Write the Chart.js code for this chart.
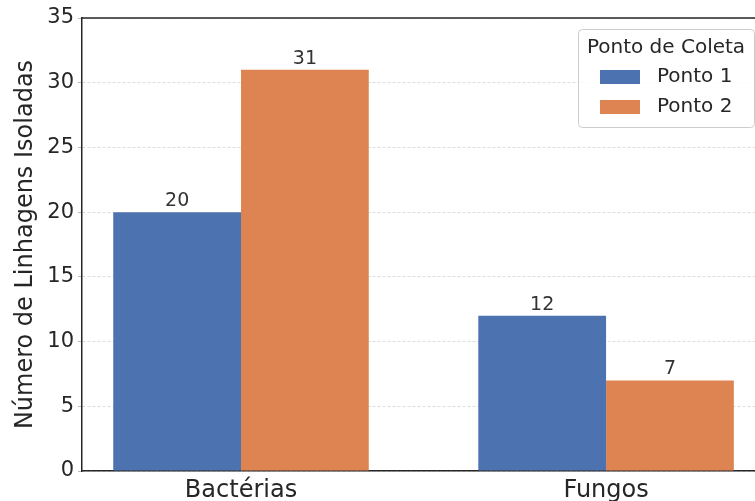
<!DOCTYPE html>
<html>
<head>
<meta charset="utf-8">
<script src="https://cdn.jsdelivr.net/npm/chart.js@4.4.0/dist/chart.umd.min.js"></script>
<style>
  html, body { margin: 0; padding: 0; background: #fff; overflow: hidden; }
</style>
</head>
<body>
<canvas id="myChart" width="755" height="501"></canvas>
<script>
// data
const categories = ['Bactérias', 'Fungos'];
const seriesNames = ['Ponto 1', 'Ponto 2'];
const ponto1 = [20, 12];
const ponto2 = [31, 7];
const yTicks = [0, 5, 10, 15, 20, 25, 30, 35];

const colors = ['#4C72B0', '#DD8452'];
const font = 'DejaVu Sans';

const toPoints = (vals) => vals.map((v, i) => ({ x: i, y: v }));

// value above each bar
const barLabels = {
  id: 'barLabels',
  afterDatasetsDraw(chart) {
    const c = chart.ctx;
    c.save();
    c.font = '19px "' + font + '"';
    c.fillStyle = '#333333';
    c.textAlign = 'center';
    c.textBaseline = 'alphabetic';
    chart.data.datasets.forEach((ds, di) => {
      chart.getDatasetMeta(di).data.forEach((bar, i) => {
        c.fillText(String(ds.data[i].y), bar.x, bar.y - 6);
      });
    });
    c.restore();
  }
};

// top spine + boxed legend with title
const frameLegend = {
  id: 'frameLegend',
  afterDraw(chart) {
    const c = chart.ctx;
    const a = chart.chartArea;
    c.save();
    c.strokeStyle = '#262626';
    c.lineWidth = 1.5;
    c.beginPath();
    c.moveTo(a.left, a.top);
    c.lineTo(a.right, a.top);
    c.stroke();

    const bx = a.right - 177, by = a.top + 11, bw = 176, bh = 98;
    c.fillStyle = 'rgba(255,255,255,0.85)';
    c.strokeStyle = '#cccccc';
    c.lineWidth = 1;
    c.beginPath();
    c.roundRect(bx + 0.5, by + 0.5, bw, bh, 4);
    c.fill();
    c.stroke();

    c.fillStyle = '#262626';
    c.font = '20px "' + font + '"';
    c.textAlign = 'center';
    c.textBaseline = 'middle';
    c.fillText('Ponto de Coleta', bx + bw / 2, by + 19);
    c.textAlign = 'left';
    chart.data.datasets.forEach((ds, i) => {
      const yy = by + 48 + i * 30;
      c.fillStyle = ds.backgroundColor;
      c.fillRect(bx + 22, yy - 7, 40, 14);
      c.fillStyle = '#262626';
      c.fillText(ds.label, bx + 79, yy);
    });
    c.restore();
  }
};

new Chart(document.getElementById('myChart'), {
  type: 'bar',
  data: {
    datasets: [
      { label: seriesNames[0], data: toPoints(ponto1), backgroundColor: colors[0] },
      { label: seriesNames[1], data: toPoints(ponto2), backgroundColor: colors[1] },
    ],
  },
  options: {
    responsive: false,
    animation: false,
    devicePixelRatio: 1,
    categoryPercentage: 0.7,
    barPercentage: 1.0,
    layout: { padding: { top: 18, right: 0, left: 0, bottom: 0 } },
    plugins: {
      legend: { display: false },
      tooltip: { enabled: false },
    },
    scales: {
      x: {
        type: 'linear',
        offset: false,
        min: -0.4356,
        max: 1.408,
        afterBuildTicks: (s) => { s.ticks = categories.map((_, i) => ({ value: i })); },
        afterFit: (s) => { s.height = 30; },
        ticks: {
          callback: (v) => categories[v],
          color: '#262626',
          font: { family: font, size: 24 },
          padding: -3,
          maxRotation: 0,
        },
        grid: { display: false },
        border: { display: true, color: '#262626', width: 1.5 },
      },
      y: {
        min: 0,
        max: 35,
        afterBuildTicks: (s) => { s.ticks = yTicks.map((v) => ({ value: v })); },
        afterFit: (s) => { s.width = 82; },
        ticks: {
          color: '#262626',
          font: { family: font, size: 21 },
          padding: 4,
        },
        grid: {
          color: '#dddddd',
          tickLength: 4,
          tickColor: '#bbbbbb',
          tickBorderDash: [],
        },
        border: { display: true, color: '#262626', width: 1.5, dash: [3, 2] },
        title: {
          display: true,
          text: 'Número de Linhagens Isoladas',
          color: '#262626',
          font: { family: font, size: 24 },
          padding: { top: 11, bottom: 0 },
        },
      },
    },
  },
  plugins: [barLabels, frameLegend],
});
</script>
</body>
</html>
